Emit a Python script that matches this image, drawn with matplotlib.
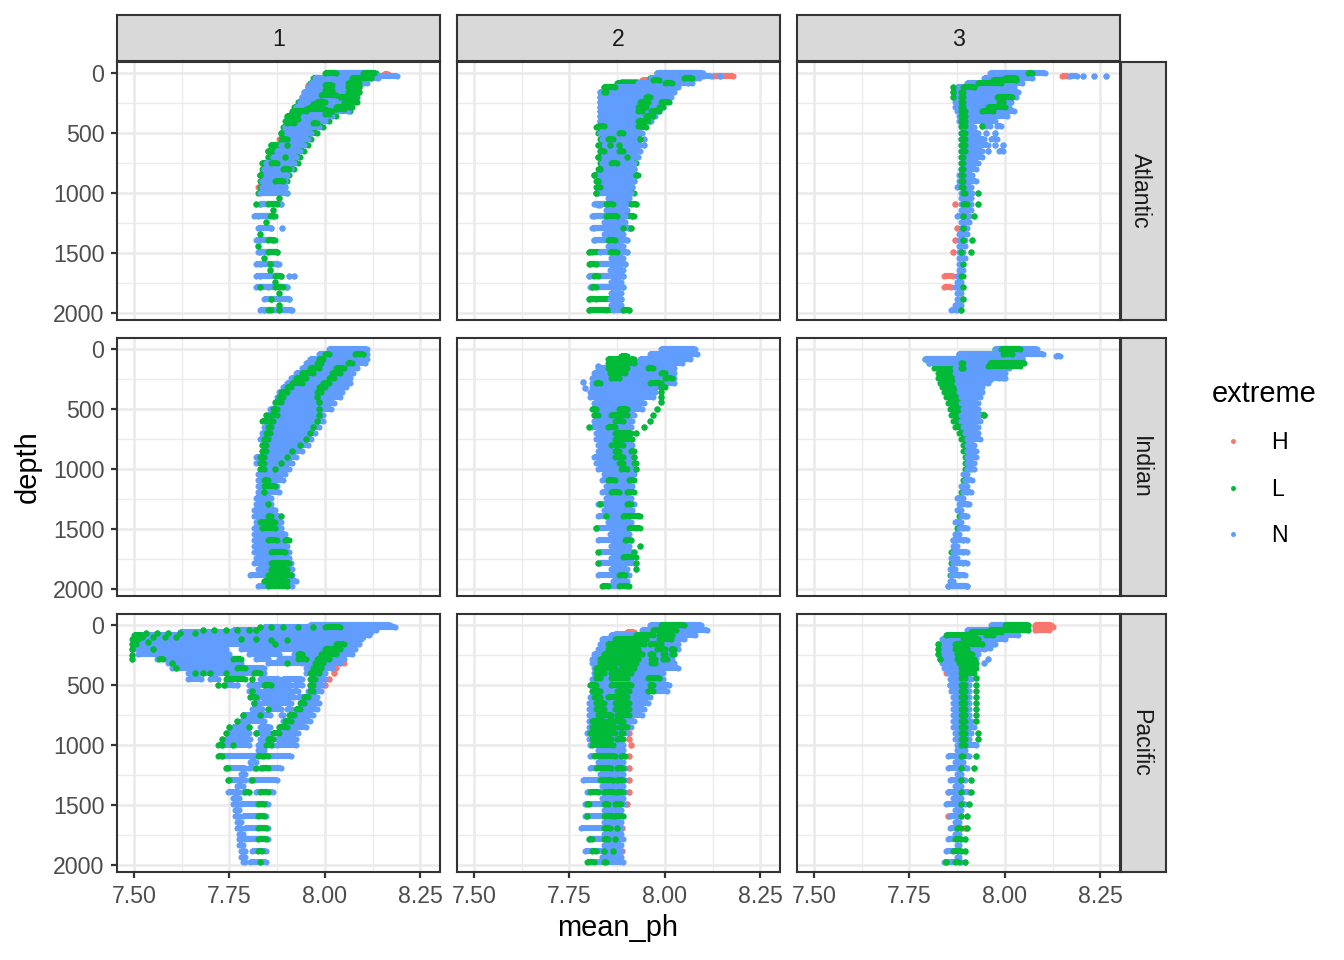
import matplotlib
matplotlib.use('Agg')
import matplotlib.pyplot as plt
from matplotlib.lines import Line2D

plt.rcParams['font.family'] = ['Liberation Sans', 'DejaVu Sans']

W, H = 1344, 960
col_x = [(117, 440), (457, 780), (797, 1120)]
row_y = [(62, 320), (338, 596), (614, 872)]
colors = {'H': '#F8766D', 'L': '#00BA38', 'N': '#619CFF'}
oceans = ['Atlantic', 'Indian', 'Pacific']
clusters = ['1', '2', '3']

# depth levels of the envelope rows and the in-between rows
depth_rows = [0, 40, 80, 120, 160, 200, 240, 280, 320, 360, 400, 447,
              497, 547, 597, 647, 697, 747, 797, 847, 897, 947, 997,
              1095, 1195, 1290, 1390, 1490, 1590, 1690, 1785, 1880, 1975]
depth_mid = [1045, 1145, 1240, 1340, 1440, 1540, 1640, 1740, 1830, 1930]

# Atlantic 1
a1_nl = [8.01, 7.975, 7.965, 7.955, 7.945, 7.94, 7.935, 7.925, 7.92, 7.905, 7.90, 7.895,
         7.89, 7.895, 7.885, 7.875, 7.865, 7.845, 7.84, 7.84, 7.835, 7.835, 7.83,
         7.83, 7.815, 7.825, 7.82, 7.825, 7.82, 7.82, 7.82, 7.84, 7.83]
a1_nr = [8.13, 8.14, 8.11, 8.085, 8.08, 8.08, 8.075, 8.065, 8.06, 8.02, 8.0, 7.985,
         7.965, 7.955, 7.945, 7.935, 7.925, 7.92, 7.91, 7.90, 7.895, 7.895, 7.90,
         7.885, 7.865, 7.86, 7.865, 7.875, 7.88, 7.885, 7.90, 7.905, 7.915]
a1_ll = [8.005, 7.97, 7.96, 7.955, 7.945, 7.94, 7.93, 7.92, 7.915, 7.90, 7.895, 7.89,
         7.885, 7.885, 7.86, 7.85, 7.85, 7.835, 7.835, 7.83, 7.83, 7.83, 7.825,
         7.83, 7.825, 7.83, 7.83, 7.83, 7.83, 7.83, 7.85, 7.86, 7.84]
a1_lr = [8.135, 8.12, 8.10, 8.09, 8.09, 8.085, 8.08, 8.07, 8.065, 8.03, 8.01, 7.995,
         7.98, 7.965, 7.955, 7.945, 7.935, 7.93, 7.92, 7.905, 7.90, 7.895, 7.90,
         7.885, 7.87, 7.86, 7.87, 7.875, 7.875, 7.885, 7.90, 7.905, 7.91]
a1_midl = [7.88, 7.865, 7.845, 7.83, 7.825, 7.84, 7.855, 7.87, 7.88, 7.88]
a1_midr = [7.88, 7.865, 7.845, 7.83, 7.825, 7.84, 7.855, 7.87, 7.88, 7.88]
a1_h = [(10, 8.155, 8.165), (58, 7.975, 7.985), (97, 7.955, 7.965), (547, 7.88, 7.89),
        (597, 7.865, 7.88), (647, 7.85, 7.865), (697, 7.85, 7.86), (747, 7.835, 7.85),
        (847, 7.83, 7.84), (947, 7.825, 7.83)]
a1_n = [(22, 8.14, 8.19), (1290, 7.887), (1690, 7.905), (1690, 7.92)]
a1_g = [(0, 8.00, 8.03), (0, 8.10, 8.13), (40, 8.07, 8.12), (80, 8.06, 8.09), (120, 8.06, 8.09),
        (160, 8.06, 8.09), (200, 8.04, 8.08), (240, 7.98, 8.00), (240, 8.05, 8.085),
        (280, 7.96, 7.98), (280, 8.03, 8.065), (320, 7.92, 7.95), (320, 8.00, 8.02),
        (360, 7.90, 7.92), (400, 7.90, 7.91), (100, 8.0, 8.02), (140, 8.0, 8.02), (180, 7.99, 8.03),
        (260, 7.97, 7.99), (300, 7.95, 8.0), (340, 7.91, 7.93), (380, 7.90, 7.93), (420, 7.90, 7.92),
        (420, 7.97, 7.98), (300, 8.03, 8.05), (340, 8.0, 8.01), (497, 7.885), (547, 7.89, 7.90), (597, 7.86),
        (597, 7.90), (647, 7.85), (697, 7.895), (747, 7.86, 7.875), (797, 7.89, 7.905),
        (847, 7.83), (897, 7.87, 7.89), (1095, 7.82), (1095, 7.85, 7.875), (1195, 7.855, 7.865),
        (1390, 7.85, 7.865), (1490, 7.85, 7.875), (1590, 7.855), (1690, 7.87, 7.885),
        (1785, 7.83), (1785, 7.87, 7.89), (1880, 7.86), (1975, 7.85, 7.86), (1975, 7.88)]

# Atlantic 2
a2_nl = [7.98, 7.965, 7.93, 7.855, 7.83, 7.83, 7.83, 7.83, 7.83, 7.83, 7.83, 7.835,
         7.83, 7.835, 7.84, 7.84, 7.835, 7.835, 7.835, 7.825, 7.83, 7.83, 7.825,
         7.815, 7.81, 7.81, 7.815, 7.83, 7.82, 7.80, 7.805, 7.855, 7.865]
a2_nr = [8.10, 8.09, 8.07, 8.035, 8.025, 8.015, 8.005, 7.995, 7.985, 7.975, 7.965, 7.93,
         7.94, 7.93, 7.935, 7.935, 7.93, 7.92, 7.92, 7.925, 7.92, 7.915, 7.91,
         7.90, 7.895, 7.905, 7.90, 7.90, 7.895, 7.89, 7.89, 7.885, 7.89]
a2_ll = [7.98, 7.96, 7.875, 7.84, 7.83, 7.83, 7.83, 7.83, 7.83, 7.83, 7.83, 7.82,
         7.825, 7.83, 7.83, 7.83, 7.825, 7.83, 7.825, 7.815, 7.82, 7.825, 7.82,
         7.82, 7.815, 7.815, 7.815, 7.80, 7.80, 7.80, 7.81, 7.80, 7.80]
a2_lr = [8.09, 8.08, 8.06, 8.03, 8.02, 8.01, 8.0, 7.99, 7.98, 7.97, 7.96, 7.95,
         7.935, 7.935, 7.93, 7.93, 7.925, 7.925, 7.92, 7.93, 7.92, 7.915, 7.92,
         7.925, 7.92, 7.905, 7.90, 7.90, 7.895, 7.89, 7.89, 7.885, 7.905]
a2_midl = [7.85, 7.845, 7.84, 7.84, 7.85, 7.86, 7.855, 7.86, 7.86, 7.86]
a2_midr = [7.905, 7.90, 7.895, 7.89, 7.89, 7.89, 7.89, 7.885, 7.885, 7.885]
a2_h = [(22, 8.125, 8.18), (60, 7.94, 7.96), (75, 7.885, 7.93)]
a2_n = [(22, 8.10, 8.12), (22, 8.145), (547, 7.945), (597, 7.945), (1100, 7.825, 7.83)]
a2_g = [(40, 8.05, 8.07), (60, 7.97, 7.985), (80, 8.0, 8.02), (120, 7.84, 7.87), (160, 7.84, 7.845),
        (200, 7.95, 7.96), (240, 7.935, 7.955), (240, 7.99, 8.01), (280, 7.93, 7.95),
        (280, 7.985, 7.995), (320, 7.93, 7.94), (320, 7.965, 7.985), (360, 7.95, 7.97),
        (400, 7.93, 7.955), (440, 7.825, 7.84), (440, 7.93, 7.945), (497, 7.88, 7.89),
        (547, 7.85, 7.865), (547, 7.935), (597, 7.825), (597, 7.855), (597, 7.88),
        (647, 7.83, 7.84), (647, 7.88, 7.89), (697, 7.825), (697, 7.90), (747, 7.86, 7.875),
        (797, 7.83), (847, 7.815), (847, 7.925), (897, 7.825), (947, 7.82, 7.83), (997, 7.82),
        (1095, 7.845, 7.865), (1095, 7.91, 7.925), (1195, 7.845, 7.875), (1195, 7.915),
        (1290, 7.89), (1290, 7.91), (1390, 7.85, 7.87), (1490, 7.80, 7.81), (1490, 7.855, 7.875),
        (1590, 7.805, 7.82), (1690, 7.815, 7.825), (1785, 7.81, 7.82), (1880, 7.80, 7.82),
        (1975, 7.80, 7.845), (1975, 7.89, 7.905)]

# Atlantic 3
a3_nl = [7.96, 7.945, 7.90, 7.875, 7.87, 7.87, 7.87, 7.87, 7.875, 7.88, 7.88, 7.885,
         7.885, 7.885, 7.885, 7.885, 7.885, 7.885, 7.885, 7.88, 7.88, 7.875, 7.885,
         7.885, 7.875, 7.885, 7.88, 7.88, 7.88, 7.875, 7.87, 7.875, 7.86]
a3_nr = [8.105, 8.07, 8.045, 8.025, 8.035, 8.03, 8.015, 8.01, 8.025, 8.005, 7.975, 7.92,
         7.93, 7.945, 7.955, 7.94, 7.94, 7.93, 7.925, 7.915, 7.925, 7.91, 7.915,
         7.91, 7.905, 7.90, 7.895, 7.89, 7.885, 7.885, 7.885, 7.88, 7.875]
a3_midl = [7.885, 7.885, 7.885, 7.88, 7.88, 7.88, 7.88, 7.875, 7.875, 7.87]
a3_midr = [7.91, 7.91, 7.905, 7.90, 7.895, 7.895, 7.89, 7.885, 7.885, 7.885]
a3_h = [(22, 8.15, 8.165), (1095, 7.87), (1290, 7.875), (1390, 7.87), (1490, 7.865),
        (1690, 7.84, 7.865), (1785, 7.84, 7.86), (1880, 7.885)]
a3_n = [(22, 8.17, 8.19), (22, 8.205), (22, 8.235), (22, 8.265), (440, 7.95, 7.96), (440, 7.98, 7.99),
        (497, 7.95), (497, 7.975), (547, 7.965, 7.98), (597, 7.975), (597, 7.995), (647, 7.955),
        (647, 7.985, 7.995)]
a3_g = [(0, 8.06, 8.07), (40, 8.0, 8.03), (60, 7.97, 8.03), (80, 7.93, 7.99), (120, 7.89, 7.92),
        (120, 7.865), (160, 7.865), (160, 7.885, 7.89), (200, 7.865), (200, 7.885, 7.89),
        (200, 7.98, 8.02), (240, 7.885, 7.89), (240, 7.985, 7.995), (280, 7.885, 7.89),
        (280, 7.955, 8.0), (320, 7.885, 7.895), (320, 7.94, 7.97), (360, 7.885, 7.895),
        (400, 7.885, 7.895), (440, 7.885, 7.895), (440, 7.94), (497, 7.885, 7.895),
        (547, 7.885, 7.895), (597, 7.885, 7.895), (647, 7.885, 7.895), (697, 7.885, 7.89),
        (747, 7.885, 7.89), (797, 7.885, 7.89), (847, 7.885, 7.89), (897, 7.885, 7.89),
        (947, 7.885, 7.89), (997, 7.89, 7.895), (997, 7.93), (1095, 7.89, 7.90), (1095, 7.93),
        (1195, 7.89), (1195, 7.92), (1290, 7.89), (1390, 7.89), (1390, 7.915), (1490, 7.885),
        (1490, 7.91), (1590, 7.89), (1690, 7.885, 7.89), (1785, 7.89), (1880, 7.89), (1975, 7.885)]

# Indian 1
i1_nl = [8.01, 7.985, 7.96, 7.95, 7.94, 7.925, 7.91, 7.90, 7.89, 7.88, 7.875, 7.87,
         7.855, 7.85, 7.85, 7.84, 7.835, 7.83, 7.835, 7.835, 7.82, 7.82, 7.83,
         7.825, 7.825, 7.82, 7.815, 7.815, 7.815, 7.815, 7.815, 7.805, 7.825]
i1_nr = [8.11, 8.11, 8.11, 8.105, 8.085, 8.075, 8.065, 8.065, 8.055, 8.045, 8.04, 8.025,
         8.015, 7.995, 7.995, 7.985, 7.975, 7.965, 7.955, 7.94, 7.925, 7.915, 7.905,
         7.89, 7.88, 7.86, 7.88, 7.885, 7.90, 7.905, 7.91, 7.915, 7.915]
i1_midl = [7.825, 7.825, 7.82, 7.815, 7.82, 7.815, 7.815, 7.82, 7.825, 7.84]
i1_midr = [7.895, 7.875, 7.86, 7.87, 7.885, 7.895, 7.90, 7.905, 7.915, 7.925]
i1_h = []
i1_n = []
i1_g = [(40, 8.08, 8.10), (40, 8.0, 8.01), (80, 7.985, 7.995), (120, 7.98, 7.99), (120, 8.06, 8.07),
        (160, 7.96, 7.985), (160, 8.03, 8.05), (200, 7.94, 7.97), (200, 8.02, 8.04), (240, 7.925, 7.95),
        (240, 8.01, 8.025), (280, 7.915, 7.94), (280, 7.995, 8.01), (320, 7.90, 7.91), (320, 7.985, 8.0),
        (360, 7.885, 7.90), (360, 7.98, 7.99), (400, 7.88, 7.89), (400, 7.98), (440, 7.87, 7.885),
        (440, 7.985), (497, 7.865, 7.875), (497, 7.985), (547, 7.86, 7.875), (547, 7.985),
        (547, 7.845), (597, 7.855, 7.865), (597, 7.98), (597, 7.835, 7.85), (647, 7.85, 7.86),
        (647, 7.97), (697, 7.845, 7.855), (697, 7.96), (747, 7.84, 7.85), (747, 7.95),
        (797, 7.835, 7.845), (797, 7.935), (847, 7.835, 7.845), (847, 7.915), (897, 7.83, 7.84),
        (897, 7.90), (947, 7.83, 7.84), (947, 7.885), (997, 7.83, 7.84), (997, 7.87),
        (1095, 7.84, 7.85), (1145, 7.84, 7.87), (1195, 7.84), (1290, 7.85), (1390, 7.85, 7.86),
        (1390, 7.885), (1440, 7.83, 7.87), (1490, 7.835, 7.87), (1590, 7.85, 7.875),
        (1590, 7.895, 7.905), (1690, 7.86, 7.895), (1785, 7.86, 7.905), (1830, 7.86, 7.90),
        (1880, 7.85, 7.91), (1930, 7.84, 7.90), (1975, 7.85, 7.90)]

# Indian 2
i2_nl = [7.99, 7.96, 7.935, 7.855, 7.825, 7.815, 7.81, 7.81, 7.81, 7.805, 7.805, 7.815,
         7.815, 7.815, 7.815, 7.81, 7.82, 7.82, 7.825, 7.825, 7.815, 7.82, 7.825,
         7.835, 7.835, 7.825, 7.825, 7.82, 7.825, 7.83, 7.83, 7.825, 7.84]
i2_nr = [8.08, 8.085, 8.065, 8.045, 8.025, 8.025, 8.025, 8.025, 7.99, 7.975, 7.97, 7.945,
         7.94, 7.92, 7.915, 7.91, 7.905, 7.91, 7.915, 7.915, 7.915, 7.915, 7.92,
         7.915, 7.91, 7.92, 7.93, 7.925, 7.91, 7.915, 7.92, 7.905, 7.90]
i2_midl = [7.84, 7.845, 7.845, 7.84, 7.85, 7.855, 7.86, 7.86, 7.86, 7.865]
i2_midr = [7.92, 7.915, 7.91, 7.915, 7.91, 7.905, 7.905, 7.90, 7.90, 7.90]
i2_h = []
i2_n = [(275, 7.785), (325, 7.79), (140, 7.825)]
i2_g = [(60, 7.885, 7.90), (80, 7.85, 7.90), (80, 7.91, 7.92), (120, 7.85, 7.92), (160, 7.85, 7.90),
        (160, 7.955, 7.97), (200, 7.855, 7.895), (200, 7.99, 8.0), (240, 7.86, 7.88), (240, 8.0, 8.02),
        (280, 7.82, 7.83), (280, 7.96, 7.99), (320, 7.99, 8.0), (360, 7.99), (400, 7.99), (440, 7.99),
        (497, 7.98), (497, 7.81, 7.82), (547, 7.97), (547, 7.815, 7.825), (597, 7.96), (647, 7.945),
        (647, 7.80), (697, 7.925), (497, 7.88, 7.90), (547, 7.86, 7.90), (597, 7.87, 7.89),
        (647, 7.85, 7.87), (697, 7.87, 7.91), (747, 7.87, 7.915), (797, 7.86, 7.89), (847, 7.91, 7.92),
        (847, 7.87, 7.88), (897, 7.92), (897, 7.87, 7.89), (947, 7.92, 7.925), (947, 7.88, 7.89),
        (997, 7.925), (997, 7.885, 7.90), (1095, 7.905, 7.92), (1095, 7.85, 7.87), (1195, 7.90, 7.92),
        (1195, 7.86, 7.88), (1290, 7.90, 7.91), (1290, 7.83), (1390, 7.89, 7.935), (1390, 7.845),
        (1490, 7.82), (1490, 7.905, 7.935), (1590, 7.895, 7.91), (1640, 7.935), (1690, 7.825),
        (1690, 7.92), (1735, 7.89, 7.925), (1785, 7.825), (1785, 7.925), (1830, 7.925),
        (1880, 7.88, 7.895), (1975, 7.835, 7.85), (1975, 7.88, 7.905)]

# Indian 3
i3_nl = [7.975, 7.88, 7.79, 7.80, 7.87, 7.87, 7.875, 7.875, 7.88, 7.88, 7.885, 7.885,
         7.89, 7.885, 7.885, 7.89, 7.895, 7.90, 7.90, 7.90, 7.90, 7.90, 7.90,
         7.895, 7.89, 7.88, 7.885, 7.88, 7.865, 7.865, 7.865, 7.86, 7.85]
i3_nr = [8.085, 8.10, 8.045, 8.035, 8.01, 8.0, 8.0, 7.955, 7.94, 7.94, 7.935, 7.93,
         7.93, 7.935, 7.935, 7.93, 7.93, 7.935, 7.92, 7.925, 7.925, 7.92, 7.92,
         7.915, 7.91, 7.905, 7.90, 7.90, 7.90, 7.90, 7.90, 7.895, 7.90]
i3_ll = [7.975, 7.88, 7.79, 7.80, 7.815, 7.825, 7.825, 7.83, 7.835, 7.84, 7.845, 7.85,
         7.855, 7.86, 7.865, 7.87, 7.88, 7.885, 7.89, 7.89, 7.895, 7.895, 7.895,
         7.89, 7.885, 7.885, 7.88, 7.875, 7.865, 7.86, 7.86, 7.855, 7.85]
i3_lr = [8.04, 8.05, 8.045, 8.035, 7.90, 7.90, 7.90, 7.90, 7.90, 7.90, 7.90, 7.90,
         7.90, 7.945, 7.90, 7.90, 7.90, 7.91, 7.91, 7.91, 7.91, 7.91, 7.91,
         7.90, 7.90, 7.90, 7.895, 7.89, 7.89, 7.89, 7.89, 7.88, 7.90]
i3_midl = [7.89, 7.885, 7.875, 7.875, 7.87, 7.87, 7.865, 7.86, 7.855, 7.855]
i3_midr = [7.90, 7.90, 7.89, 7.885, 7.885, 7.88, 7.875, 7.875, 7.87, 7.865]
i3_h = []
i3_n = [(62, 8.135, 8.145), (200, 7.955), (260, 7.95, 7.96), (240, 7.985, 7.995)]
i3_g = [(0, 7.99, 8.04), (40, 7.995, 8.02), (120, 7.96, 8.05), (145, 7.955, 8.04), (120, 7.885, 7.89),
        (160, 7.885, 7.89), (547, 7.945)]

# Pacific 1
p1_h = [(320, 8.04, 8.05), (360, 8.02, 8.03), (400, 8.025), (450, 8.01), (497, 8.0)]
p1_midl = [7.825, 7.805, 7.78, 7.77, 7.76, 7.765, 7.77, 7.775, 7.775, 7.78]
p1_midr = [7.84, 7.82, 7.79, 7.785, 7.775, 7.775, 7.78, 7.785, 7.785, 7.79]
p1_n = [(0, 7.96, 8.17), (20, 7.84, 8.185), (40, 7.76, 8.135), (60, 7.62, 8.12), (80, 7.52, 8.115),
        (100, 7.50, 8.10), (120, 7.50, 8.095),
        (160, 7.495, 8.09), (200, 7.50, 7.74), (200, 7.78, 8.08), (240, 7.51, 7.75), (240, 7.80, 7.88),
        (240, 7.92, 8.07), (280, 7.56, 7.76), (280, 7.82, 7.85), (280, 7.88, 8.05), (320, 7.59, 7.78),
        (320, 7.85, 7.94), (320, 7.95, 8.04), (360, 7.60, 7.84), (360, 7.95, 8.02), (400, 7.64, 7.84),
        (400, 7.95, 8.0), (450, 7.64, 7.675), (450, 7.70, 7.72), (450, 7.83, 7.88), (450, 7.89, 7.94),
        (450, 7.965, 8.0), (497, 7.74, 7.76), (497, 7.77), (497, 7.80, 7.84), (497, 7.85, 7.91),
        (497, 7.92, 7.94), (497, 7.96, 7.995), (547, 7.80, 7.83), (547, 7.84, 7.91), (547, 7.92, 7.93),
        (547, 7.955, 7.99), (597, 7.805, 7.82), (597, 7.82, 7.92), (597, 7.93, 7.98), (647, 7.815, 7.83),
        (647, 7.835, 7.91), (647, 7.94, 7.985), (697, 7.81, 7.835), (697, 7.855, 7.885), (697, 7.90, 7.91),
        (697, 7.93, 7.98), (747, 7.785, 7.855), (747, 7.885, 7.89), (747, 7.91, 7.97), (797, 7.78, 7.84),
        (797, 7.89, 7.96), (847, 7.76, 7.80), (847, 7.83, 7.855), (847, 7.88, 7.95), (897, 7.745, 7.80),
        (897, 7.82, 7.855), (897, 7.87, 7.93), (947, 7.74, 7.805), (947, 7.83, 7.86), (947, 7.875, 7.925),
        (997, 7.73, 7.80), (997, 7.825, 7.865), (997, 7.875, 7.925), (1095, 7.73, 7.91), (1195, 7.74, 7.79),
        (1195, 7.80, 7.815), (1195, 7.83, 7.885), (1290, 7.745, 7.79), (1290, 7.805, 7.875),
        (1390, 7.745, 7.775), (1390, 7.785, 7.80), (1390, 7.82, 7.865), (1490, 7.76, 7.775),
        (1490, 7.78, 7.85), (1590, 7.765, 7.775), (1590, 7.785, 7.845), (1690, 7.77, 7.78),
        (1690, 7.79, 7.85), (1785, 7.775, 7.78), (1785, 7.79, 7.85), (1880, 7.78, 7.79),
        (1880, 7.81, 7.845), (1975, 7.785, 7.79), (1975, 7.805, 7.845)]
p1_g = [(15, 7.83), (15, 7.86), (15, 7.89), (15, 7.93), (15, 7.97), (15, 8.0, 8.04), (40, 7.68), (40, 7.71),
        (40, 7.74), (40, 7.77), (40, 7.80), (40, 7.82), (65, 7.53), (65, 7.56), (65, 7.59), (65, 7.62), (65, 7.66),
        (80, 7.50, 7.52), (100, 7.52), (100, 7.55), (100, 7.58), (100, 7.61), (120, 7.495, 7.51), (125, 7.86),
        (125, 7.90), (140, 7.535), (160, 7.495, 7.505), (200, 7.495), (200, 7.55), (250, 7.495), (280, 7.495),
        (280, 7.565, 7.575), (280, 7.76, 7.78), (320, 7.60), (320, 7.90), (360, 7.61), (360, 7.77, 7.79),
        (400, 7.66), (400, 7.68), (400, 7.70), (400, 7.74), (400, 7.815, 7.83), (160, 8.03, 8.05),
        (200, 8.00, 8.04), (240, 7.99, 8.03), (240, 7.93, 7.94), (280, 7.98, 8.01), (280, 7.93, 7.95),
        (320, 7.975, 7.995), (360, 7.97, 7.99), (400, 7.96, 7.985), (120, 7.78), (120, 7.82), (160, 7.87),
        (450, 7.74, 7.79), (450, 7.81), (450, 7.96, 7.975), (497, 7.72), (497, 7.735), (497, 7.96, 7.97),
        (497, 7.84, 7.86), (547, 7.81), (547, 7.96, 7.97), (597, 7.805, 7.82), (597, 7.945, 7.955),
        (647, 7.815), (647, 7.935, 7.945), (697, 7.925, 7.935), (697, 7.85), (747, 7.785), (747, 7.905, 7.92),
        (747, 7.83), (797, 7.77), (797, 7.895, 7.91), (847, 7.75), (847, 7.80), (847, 7.88, 7.90), (897, 7.74),
        (897, 7.865, 7.88), (897, 7.82), (947, 7.73), (947, 7.85, 7.865), (997, 7.72, 7.73), (997, 7.76),
        (997, 7.845, 7.86), (1095, 7.72, 7.73), (1095, 7.84, 7.85), (1095, 7.825, 7.835), (1195, 7.74, 7.745),
        (1195, 7.82), (1195, 7.835, 7.85), (1290, 7.745, 7.75), (1290, 7.81), (1390, 7.79, 7.80),
        (1390, 7.83, 7.85), (1490, 7.825, 7.84), (1590, 7.825, 7.84), (1690, 7.825, 7.845), (1785, 7.825, 7.845),
        (1880, 7.825, 7.835), (1975, 7.83)]

# Pacific 2
p2_nl = [7.96, 7.94, 7.86, 7.835, 7.83, 7.825, 7.815, 7.81, 7.81, 7.815, 7.815, 7.81,
         7.805, 7.81, 7.805, 7.80, 7.80, 7.80, 7.80, 7.80, 7.795, 7.80, 7.805,
         7.805, 7.805, 7.785, 7.795, 7.79, 7.79, 7.78, 7.80, 7.79, 7.80]
p2_nr = [8.095, 8.11, 8.08, 8.05, 8.035, 8.035, 8.025, 8.02, 8.025, 8.035, 7.995, 7.995,
         8.01, 8.005, 7.96, 7.955, 7.945, 7.94, 7.92, 7.91, 7.90, 7.885, 7.89,
         7.895, 7.895, 7.895, 7.895, 7.895, 7.89, 7.885, 7.89, 7.885, 7.89]
p2_midl = [7.825, 7.825, 7.83, 7.835, 7.835, 7.84, 7.84, 7.84, 7.84, 7.835]
p2_midr = [7.89, 7.89, 7.89, 7.89, 7.89, 7.885, 7.885, 7.885, 7.885, 7.885]
p2_h = [(60, 7.90, 7.92), (75, 7.87, 7.915), (897, 7.905), (947, 7.905), (997, 7.91), (1095, 7.905),
        (1195, 7.905), (1290, 7.905), (1390, 7.905), (1490, 7.90), (1690, 7.888), (1880, 7.888)]
p2_n = []
p2_g = [(0, 7.99, 8.05), (40, 7.97, 8.03), (80, 7.925, 7.97), (80, 7.985, 8.02), (120, 7.87, 7.95),
        (120, 7.985, 8.015), (160, 7.85, 7.945), (160, 7.96, 7.99), (200, 7.85, 7.93), (200, 7.98, 8.0),
        (200, 8.015, 8.025), (240, 7.84, 7.94), (240, 7.96, 7.97), (240, 7.995, 8.0), (240, 8.02, 8.025),
        (280, 7.83, 7.93), (280, 7.965, 7.975), (280, 7.995, 8.005), (320, 7.83, 7.925), (320, 7.965, 7.975),
        (360, 7.82, 7.87), (360, 7.885, 7.92), (400, 7.82, 7.84), (400, 7.86, 7.91), (440, 7.82, 7.83),
        (440, 7.86, 7.90), (440, 7.955, 7.985), (497, 7.805, 7.82), (497, 7.86, 7.91), (497, 7.96, 7.97),
        (547, 7.81, 7.83), (547, 7.875, 7.905), (547, 7.955, 7.97), (597, 7.815, 7.83), (597, 7.85, 7.90),
        (647, 7.82, 7.84), (647, 7.87, 7.905), (697, 7.82, 7.84), (697, 7.87, 7.905), (747, 7.825, 7.86),
        (747, 7.875, 7.905), (797, 7.81, 7.84), (797, 7.85, 7.89), (847, 7.81, 7.87), (847, 7.88, 7.90),
        (897, 7.805, 7.87), (897, 7.885, 7.89), (947, 7.81, 7.86), (947, 7.875, 7.89), (997, 7.81, 7.865),
        (1095, 7.815, 7.87), (1095, 7.885, 7.895), (1195, 7.82, 7.86), (1195, 7.875, 7.89), (1290, 7.83, 7.865),
        (1290, 7.875, 7.89), (1390, 7.805, 7.825), (1390, 7.84, 7.87), (1390, 7.875, 7.89), (1490, 7.795, 7.80),
        (1490, 7.84, 7.85), (1490, 7.87, 7.885), (1590, 7.795), (1590, 7.84, 7.865), (1590, 7.87, 7.89),
        (1690, 7.84, 7.855), (1690, 7.875), (1785, 7.80, 7.81), (1785, 7.84, 7.85), (1785, 7.87), (1880, 7.81, 7.82),
        (1880, 7.84), (1880, 7.865), (1975, 7.795, 7.815), (1975, 7.84, 7.845)]

# Pacific 3
p3_nl = [7.965, 7.90, 7.88, 7.835, 7.83, 7.83, 7.83, 7.83, 7.835, 7.84, 7.85, 7.855,
         7.855, 7.86, 7.865, 7.865, 7.865, 7.865, 7.865, 7.865, 7.87, 7.87, 7.875,
         7.85, 7.85, 7.855, 7.85, 7.845, 7.855, 7.855, 7.85, 7.845, 7.84]
p3_nr = [8.06, 8.06, 8.035, 8.0, 7.975, 7.945, 7.93, 7.925, 7.925, 7.92, 7.915, 7.91,
         7.905, 7.905, 7.905, 7.905, 7.905, 7.905, 7.91, 7.92, 7.91, 7.905, 7.925,
         7.905, 7.90, 7.895, 7.905, 7.895, 7.885, 7.885, 7.885, 7.885, 7.885]
p3_midl = [7.875, 7.87, 7.875, 7.87, 7.865, 7.87, 7.87, 7.87, 7.875, 7.875]
p3_midr = [7.895, 7.89, 7.885, 7.885, 7.885, 7.885, 7.88, 7.88, 7.88, 7.88]
p3_h = [(0, 8.08, 8.12), (20, 8.08, 8.125), (40, 8.08, 8.115), (400, 7.845, 7.855), (497, 7.855),
        (597, 7.87), (1390, 7.85), (1590, 7.85), (1690, 7.895)]
p3_n = [(155, 7.96, 7.97), (190, 7.95, 7.96), (280, 7.955), (320, 7.945)]
p3_g = [(0, 8.0, 8.06), (40, 7.96, 8.06), (60, 7.91, 7.99), (80, 7.845, 7.92), (80, 7.95, 7.97),
        (120, 7.89, 7.93), (160, 7.825), (160, 7.87, 7.94), (200, 7.825), (200, 7.87, 7.90), (240, 7.825),
        (240, 7.875, 7.915), (280, 7.83), (280, 7.875, 7.92), (320, 7.88, 7.925), (360, 7.885, 7.925),
        (400, 7.885, 7.92), (440, 7.885, 7.895), (440, 7.925), (497, 7.885, 7.895), (497, 7.925), (547, 7.885, 7.895),
        (547, 7.925), (597, 7.885, 7.895), (597, 7.925), (647, 7.885, 7.895), (647, 7.925), (697, 7.885, 7.895),
        (697, 7.925), (747, 7.885, 7.895), (747, 7.925), (797, 7.885, 7.895), (797, 7.925), (847, 7.885, 7.895),
        (897, 7.885, 7.895), (897, 7.93), (947, 7.885, 7.895), (947, 7.93), (997, 7.885, 7.895), (1095, 7.885, 7.89),
        (1095, 7.925), (1195, 7.885), (1195, 7.92), (1290, 7.885), (1290, 7.91), (1390, 7.885), (1390, 7.91),
        (1490, 7.885), (1490, 7.905), (1590, 7.885), (1590, 7.90), (1690, 7.875, 7.885), (1690, 7.90),
        (1785, 7.87, 7.885), (1785, 7.895), (1880, 7.865, 7.885), (1880, 7.895), (1975, 7.845),
        (1975, 7.87, 7.88), (1975, 7.895)]

panels = [
    [dict(nl=a1_nl, nr=a1_nr, ll=a1_ll, lr=a1_lr, midl=a1_midl, midr=a1_midr, mid='L', h=a1_h, n=a1_n, g=a1_g),
     dict(nl=a2_nl, nr=a2_nr, ll=a2_ll, lr=a2_lr, midl=a2_midl, midr=a2_midr, mid='N', h=a2_h, n=a2_n, g=a2_g),
     dict(nl=a3_nl, nr=a3_nr, ll=[], lr=[], midl=a3_midl, midr=a3_midr, mid='N', h=a3_h, n=a3_n, g=a3_g)],
    [dict(nl=i1_nl, nr=i1_nr, ll=[], lr=[], midl=i1_midl, midr=i1_midr, mid='N', h=i1_h, n=i1_n, g=i1_g),
     dict(nl=i2_nl, nr=i2_nr, ll=[], lr=[], midl=i2_midl, midr=i2_midr, mid='N', h=i2_h, n=i2_n, g=i2_g),
     dict(nl=i3_nl, nr=i3_nr, ll=i3_ll, lr=i3_lr, midl=i3_midl, midr=i3_midr, mid='N', h=i3_h, n=i3_n, g=i3_g)],
    [dict(nl=[], nr=[], ll=[], lr=[], midl=p1_midl, midr=p1_midr, mid='N', h=p1_h, n=p1_n, g=p1_g),
     dict(nl=p2_nl, nr=p2_nr, ll=[], lr=[], midl=p2_midl, midr=p2_midr, mid='N', h=p2_h, n=p2_n, g=p2_g),
     dict(nl=p3_nl, nr=p3_nr, ll=[], lr=[], midl=p3_midl, midr=p3_midr, mid='N', h=p3_h, n=p3_n, g=p3_g)],
]

DOT_PT = 4.4


def px_axes(fig, x0, x1, y0, y1):
    return fig.add_axes([x0 / W, 1 - y1 / H, (x1 - x0) / W, (y1 - y0) / H])


def draw_runs(ax, runs, color, z):
    # a run is (depth, left, right) or (depth, ph) for a lone point
    if not runs:
        return
    depth = [r[0] for r in runs]
    left = [r[1] for r in runs]
    right = [r[-1] for r in runs]
    ax.hlines(depth, left, right, colors=color, linewidth=DOT_PT, zorder=z)
    ax.scatter(left + right, depth + depth, s=DOT_PT ** 2, color=color, linewidths=0, zorder=z)


fig = plt.figure(figsize=(W / 100, H / 100), dpi=100)

for r, (y0, y1) in enumerate(row_y):
    for c, (x0, x1) in enumerate(col_x):
        p = panels[r][c]
        ax = px_axes(fig, x0, x1, y0, y1)
        ax.set_xlim(7.455, 8.302)
        ax.set_ylim(2058, -92)
        ax.set_xticks([7.5, 7.75, 8.0, 8.25], ['7.50', '7.75', '8.00', '8.25'])
        ax.set_yticks([0, 500, 1000, 1500, 2000])
        ax.set_xticks([7.625, 7.875, 8.125], minor=True)
        ax.set_yticks([250, 750, 1250, 1750], minor=True)
        ax.grid(True, which='major', color='#EBEBEB', linewidth=1.9)
        ax.grid(True, which='minor', color='#EBEBEB', linewidth=0.95)
        ax.set_axisbelow(True)
        ax.tick_params(which='minor', length=0)
        ax.tick_params(which='major', length=4.6, width=1.6, color='#333333', labelcolor='#4D4D4D',
                       labelsize=16.7, pad=4.5, labelbottom=r == 2, labelleft=c == 0,
                       bottom=r == 2, left=c == 0)
        for s in ax.spines.values():
            s.set_color('#333333')
            s.set_linewidth(1.5)
            s.set_zorder(10)

        draw_runs(ax, p['h'], colors['H'], 2)
        draw_runs(ax, list(zip(depth_rows, p['ll'], p['lr'])), colors['L'], 3)
        draw_runs(ax, list(zip(depth_rows, p['nl'], p['nr'])), colors['N'], 4)
        draw_runs(ax, list(zip(depth_mid, p['midl'], p['midr'])), colors[p['mid']], 4)
        draw_runs(ax, p['n'], colors['N'], 4)
        draw_runs(ax, p['g'], colors['L'], 5)

for c, (x0, x1) in enumerate(col_x):
    st = px_axes(fig, x0, x1, 15, 61)
    st.set_facecolor('#D9D9D9')
    st.set_xticks([])
    st.set_yticks([])
    for s in st.spines.values():
        s.set_color('#333333')
        s.set_linewidth(1.5)
    st.text(0.5, 0.47, clusters[c], transform=st.transAxes, ha='center', va='center',
            fontsize=16.7, color='#1A1A1A')

for r, (y0, y1) in enumerate(row_y):
    st = px_axes(fig, 1121, 1166, y0, y1)
    st.set_facecolor('#D9D9D9')
    st.set_xticks([])
    st.set_yticks([])
    for s in st.spines.values():
        s.set_color('#333333')
        s.set_linewidth(1.5)
    st.text(0.44, 0.5, oceans[r], transform=st.transAxes, ha='center', va='center',
            rotation=270, fontsize=16.7, color='#1A1A1A')

fig.text(618 / W, 1 - 928 / H, 'mean_ph', ha='center', va='center', fontsize=20.9)
fig.text(28 / W, 1 - 467 / H, 'depth', ha='center', va='center', rotation=90, fontsize=20.9)

handles = [Line2D([], [], linestyle='none', marker='o', markersize=3.6, markeredgewidth=0,
                  color=colors[k]) for k in ['H', 'L', 'N']]
fig.legend(handles, ['H', 'L', 'N'], title='extreme', loc='upper left', frameon=False,
           bbox_to_anchor=(1202 / W, 1 - 371 / H), borderaxespad=0, fontsize=16.7, title_fontsize=20.9,
           labelspacing=1.0, handletextpad=0.69, alignment='left', borderpad=0.4, handlelength=1.9)

fig.savefig('out.png', dpi=100)
